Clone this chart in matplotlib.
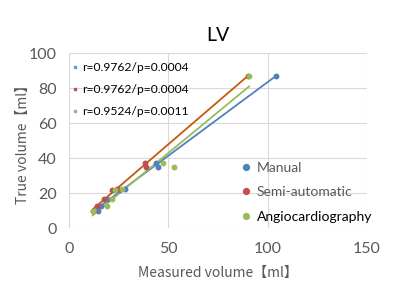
import matplotlib
matplotlib.use("Agg")
import matplotlib.pyplot as plt
from matplotlib.lines import Line2D
import numpy as np

plt.rcParams['font.family'] = ['Lato', 'DejaVu Sans']

title = "LV"
series_names = ["Manual", "Semi-automatic", "Angiocardiography"]
true_vol = [87, 37, 35, 22.5, 22, 16.5, 12.5, 10]
manual_x = [104, 44, 45, 28, 25, 19, 16, 14.5]
semi_x = [90, 38.2, 38.6, 24, 21.8, 17.8, 13.9, 12.2]
angio_x = [90.7, 47.2, 52.8, 26.5, 23.1, 21.5, 19, 11.9]
stats_labels = ["r=0.9762/p=0.0004", "r=0.9762/p=0.0004", "r=0.9524/p=0.0011"]
x_ticks = [0, 50, 100, 150]
y_ticks = [0, 20, 40, 60, 80, 100]

pt_colors = ["#4F81BD", "#C0504D", "#9BBB59"]
line_colors = ["#4F81BD", "#C55A11", "#9BBB59"]
stat_colors = ["#4BACC6", "#C0504D", "#A5A5A5"]

fig = plt.figure(figsize=(4, 3), dpi=100)
ax = fig.add_axes([0.1725, 0.24, 0.745, 0.5833])

handles = []
for xs, c, lc, name in zip([manual_x, semi_x, angio_x], pt_colors, line_colors, series_names):
    xs = np.array(xs, float)
    ys = np.array(true_vol, float)
    ax.scatter(xs, ys, s=18, color=c, zorder=3, label=name, linewidths=0)
    k, b = np.polyfit(xs, ys, 1)
    xx = np.array([xs.min(), xs.max()])
    ax.plot(xx, k * xx + b, color=lc, lw=1.3, zorder=2)
    handles.append(Line2D([], [], marker='o', ls='none', color=c, markersize=4.2))

ax.set_xlim(0, 150)
ax.set_ylim(0, 100)
ax.set_xticks(x_ticks)
ax.set_yticks(y_ticks)
ax.grid(True, color="#D9D9D9", lw=0.8)
ax.set_axisbelow(True)
for s in ax.spines.values():
    s.set_visible(False)
ax.tick_params(axis='both', length=0, labelsize=11.5, colors="#595959")
ax.tick_params(axis='x', pad=10)
ax.tick_params(axis='y', pad=9)
ax.set_xlabel("Measured volume【ml】", fontsize=10, color="#595959", family=['Noto Sans CJK JP'], labelpad=7)
ax.set_ylabel("True volume【ml】", fontsize=10, color="#595959", family=['Noto Sans CJK JP'], labelpad=-1)
ax.set_title(title, fontsize=14, pad=9)

leg1 = ax.legend(handles, series_names, loc='upper left', bbox_to_anchor=(0.56, 0.41),
                 frameon=False, fontsize=10, labelspacing=0.9, handlelength=0.6,
                 handletextpad=0.5, borderaxespad=0)
for t, col in zip(leg1.get_texts(), ["#595959", "#595959", "#000000"]):
    t.set_color(col)
ax.add_artist(leg1)

sh = [Line2D([], [], marker='s', ls='none', color=c, markersize=1.8) for c in stat_colors]
leg2 = ax.legend(sh, stats_labels, loc='upper left', bbox_to_anchor=(-0.005, 0.975),
                 frameon=False, fontsize=8.7, labelspacing=0.9, handlelength=0.4,
                 handletextpad=0.45, borderaxespad=0)

fig.savefig("out.png", dpi=100)
